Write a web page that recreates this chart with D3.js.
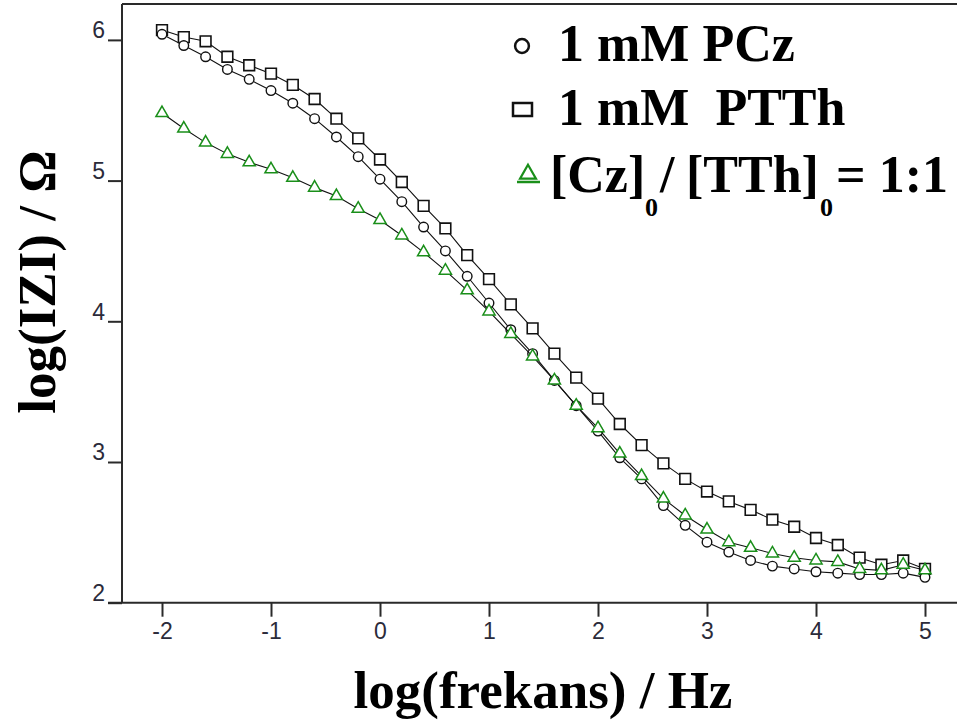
<!DOCTYPE html>
<html>
<head>
<meta charset="utf-8">
<script src="https://cdn.jsdelivr.net/npm/d3@7"></script>
<style>
  html, body { margin: 0; padding: 0; background: #fff; }
  svg { display: block; }
</style>
</head>
<body>
<svg id="chart" width="957" height="724"></svg>
<script>
// ---- data ----
const logFreq = [-2.0,-1.8,-1.6,-1.4,-1.2,-1.0,-0.8,-0.6,-0.4,-0.2,0.0,0.2,0.4,0.6,0.8,1.0,1.2,1.4,1.6,1.8,2.0,2.2,2.4,2.6,2.8,3.0,3.2,3.4,3.6,3.8,4.0,4.2,4.4,4.6,4.8,5.0];
const pczValues = [6.04,5.96,5.88,5.79,5.72,5.64,5.55,5.44,5.31,5.17,5.01,4.85,4.67,4.50,4.32,4.13,3.94,3.77,3.58,3.40,3.22,3.03,2.88,2.69,2.55,2.43,2.36,2.30,2.26,2.24,2.22,2.21,2.20,2.20,2.21,2.18];
const ptthValues = [6.07,6.02,5.99,5.88,5.82,5.76,5.68,5.58,5.44,5.30,5.15,4.99,4.82,4.66,4.47,4.30,4.12,3.95,3.77,3.60,3.45,3.27,3.12,2.99,2.88,2.79,2.72,2.66,2.59,2.54,2.46,2.41,2.32,2.27,2.30,2.24];
const mixValues = [5.48,5.37,5.27,5.19,5.13,5.08,5.02,4.95,4.89,4.80,4.72,4.61,4.49,4.36,4.22,4.07,3.91,3.75,3.58,3.40,3.24,3.06,2.90,2.74,2.62,2.52,2.43,2.39,2.35,2.32,2.30,2.29,2.24,2.23,2.27,2.23];
const xTicks = [-2,-1,0,1,2,3,4,5];
const yTicks = [2,3,4,5,6];
const seriesNames = ["1 mM PCz", "1 mM PTTh"];

// ---- scales ----
const svg = d3.select("#chart");
const x = d3.scaleLinear().domain([-2, 5]).range([162, 925]);
const y = d3.scaleLinear().domain([2, 6]).range([602.7, 39.9]);
const axisColor = "#2a2a2a";

// frame: top line
svg.append("line").attr("x1", 122).attr("x2", 957).attr("y1", 4).attr("y2", 4)
  .attr("stroke", axisColor).attr("stroke-width", 2);

// x axis
const xAxis = svg.append("g").attr("transform", `translate(0,${y(2)})`)
  .call(d3.axisBottom(x).tickValues(xTicks).tickSize(14).tickSizeOuter(0).tickPadding(6)
        .tickFormat(d => d < 0 ? "-" + Math.abs(d) : String(d)));
xAxis.select(".domain").attr("d", `M108,0H957`);
// y axis
const yAxis = svg.append("g").attr("transform", `translate(122,0)`)
  .call(d3.axisLeft(y).tickValues(yTicks).tickSize(14).tickSizeOuter(0).tickPadding(3)
        .tickFormat(d3.format("d")));
yAxis.select(".domain").attr("d", `M0,${y(2)}V4`);

[xAxis, yAxis].forEach(g => {
  g.select(".domain").attr("stroke", axisColor).attr("stroke-width", 2);
  g.selectAll(".tick line").attr("stroke", axisColor).attr("stroke-width", 2);
  g.selectAll(".tick text").attr("fill", "#2b2b3a")
    .style("font-family", "'Liberation Sans', Arial, sans-serif").style("font-size", "23px");
});
yAxis.selectAll(".tick text").attr("dy", "-0.1em").attr("y", 0);

// ---- series ----
function drawSeries(vals, symbolType, size, color, sw) {
  const pts = logFreq.map((f, i) => [f, vals[i]]);
  svg.append("path").datum(pts)
    .attr("fill", "none").attr("stroke", "#111").attr("stroke-width", 1.1)
    .attr("d", d3.line().x(d => x(d[0])).y(d => y(d[1])));
  svg.append("g").selectAll("path").data(pts).join("path")
    .attr("transform", d => `translate(${x(d[0])},${y(d[1])})`)
    .attr("d", d3.symbol().type(symbolType).size(size))
    .attr("fill", "#fff").attr("stroke", color).attr("stroke-width", sw);
}
drawSeries(ptthValues, d3.symbolSquare, 115, "#111", 1.6);
drawSeries(pczValues, d3.symbolCircle, 72, "#111", 1.4);
drawSeries(mixValues, d3.symbolTriangle, 64, "#1a8f1a", 1.5);

// ---- legend ----
const serif = "'Liberation Serif', 'Times New Roman', serif";
const leg = svg.append("g").style("font-family", serif).style("font-weight", "bold")
  .style("font-size", "52px").attr("fill", "#000");
leg.append("path").attr("transform", "translate(522,46)")
  .attr("d", d3.symbol().type(d3.symbolCircle).size(150))
  .attr("fill", "#fff").attr("stroke", "#111").attr("stroke-width", 2.5);
leg.append("rect").attr("x", 513).attr("y", 103).attr("width", 19).attr("height", 13)
  .attr("fill", "#fff").attr("stroke", "#111").attr("stroke-width", 2.5);
leg.append("path").attr("transform", "translate(528,174)")
  .attr("d", d3.symbol().type(d3.symbolTriangle).size(110))
  .attr("fill", "#fff").attr("stroke", "#1a8f1a").attr("stroke-width", 2.2);
leg.append("line").attr("x1", 517).attr("x2", 540).attr("y1", 182).attr("y2", 182)
  .attr("stroke", "#1a8f1a").attr("stroke-width", 2.5);

leg.append("text").attr("x", 558).attr("y", 61).text(seriesNames[0]);
leg.append("text").attr("x", 558).attr("y", 125).attr("xml:space", "preserve")
  .style("white-space", "pre").text("1 mM\u00A0 PTTh");
const t3 = leg.append("text").attr("y", 192);
t3.append("tspan").attr("x", 550).text("[Cz]");
t3.append("tspan").attr("x", 645).attr("dy", 24).style("font-size", "26px").text("0");
t3.append("tspan").attr("x", 660).attr("dy", -24).text("/");
t3.append("tspan").attr("x", 686).text("[TTh]");
t3.append("tspan").attr("x", 820).attr("dy", 24).style("font-size", "26px").text("0");
t3.append("tspan").attr("x", 836).attr("dy", -24).text("= 1:1");

// ---- axis titles ----
svg.append("text").attr("x", 543).attr("y", 708).attr("text-anchor", "middle")
  .style("font-family", serif).style("font-weight", "bold").style("font-size", "53px")
  .text("log(frekans) / Hz");
svg.append("text").attr("transform", "translate(55,282) rotate(-90)").attr("text-anchor", "middle")
  .style("font-family", serif).style("font-weight", "bold").style("font-size", "53px")
  .text("log(IZI) / Ω");
</script>
</body>
</html>
